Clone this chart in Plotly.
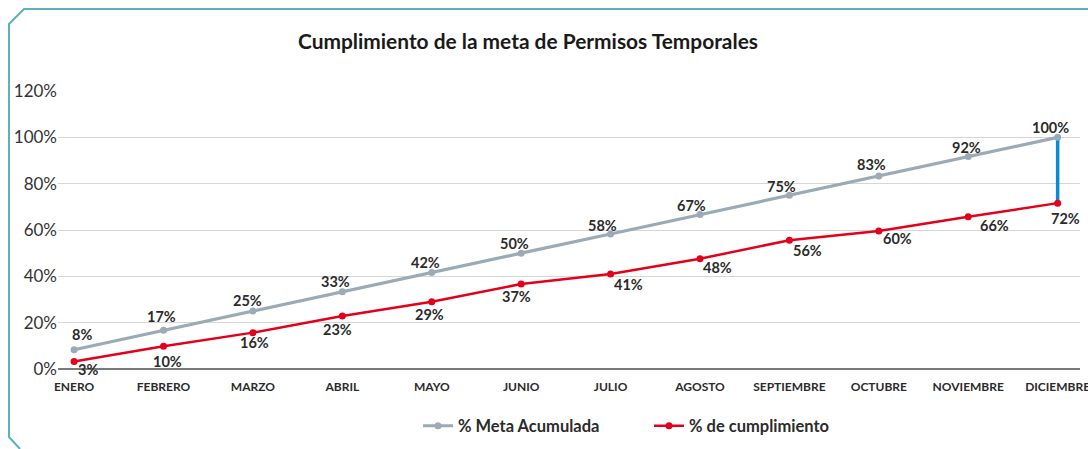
import plotly.graph_objects as go

meses = ["ENERO", "FEBRERO", "MARZO", "ABRIL", "MAYO", "JUNIO", "JULIO",
         "AGOSTO", "SEPTIEMBRE", "OCTUBRE", "NOVIEMBRE", "DICIEMBRE"]
meta_acumulada = [0.083, 0.167, 0.25, 0.333, 0.417, 0.5, 0.583, 0.667, 0.75, 0.833, 0.917, 1.0]
cumplimiento = [0.032, 0.098, 0.157, 0.229, 0.29, 0.367, 0.41, 0.476, 0.556, 0.596, 0.657, 0.716]
y_ticks = [0, 0.2, 0.4, 0.6, 0.8, 1.0, 1.2]
y_ticktext = ["0%", "20%", "40%", "60%", "80%", "100%", "120%"]

# label offsets in pixels (style only)
meta_dx = [8, -2, -5, -7, -6, -7, -8, -8, -8, -7, -2, -7]
meta_dy = [15, 14, 11, 10, 10, 10, 8, 9, 9, 12, 9, 10]
cump_dx = [14, 4, 2, -5, -2, -5, 18, 18, 18, 19, 26, 8]
cump_dy = [8, 15, 10, 14, 13, 13, 10, 9, 10, 8, 9, 15]

W, H = 1088, 449
L, R, T, B = 58, 8, 91, 80
FONT = "Lato"
x_idx = list(range(len(meses)))

fig = go.Figure()
# high-low line for last month
fig.add_trace(go.Scatter(
    x=[x_idx[-1], x_idx[-1]], y=[meta_acumulada[-1], cumplimiento[-1]],
    mode="lines", line=dict(color="#0a8ad2", width=3.5), cliponaxis=False,
    showlegend=False, hoverinfo="skip"))
fig.add_trace(go.Scatter(
    x=x_idx, y=meta_acumulada, name="% Meta Acumulada",
    mode="lines+markers", cliponaxis=False,
    line=dict(color="#9aabb6", width=3.2), marker=dict(size=7, color="#9aabb6")))
fig.add_trace(go.Scatter(
    x=x_idx, y=cumplimiento, name="% de cumplimiento",
    mode="lines+markers", cliponaxis=False,
    line=dict(color="#e3001b", width=2.5), marker=dict(size=7, color="#e3001b")))

lab_font = dict(family=FONT, size=14.5, color="#2b2b2b", weight="bold")
annotations = []
for i, v in enumerate(meta_acumulada):
    annotations.append(dict(x=x_idx[i], y=v, text=f"{v:.0%}", showarrow=False,
                            xshift=meta_dx[i], yshift=meta_dy[i], font=lab_font))
for i, v in enumerate(cumplimiento):
    annotations.append(dict(x=x_idx[i], y=v, text=f"{v:.0%}", showarrow=False,
                            xshift=cump_dx[i], yshift=-cump_dy[i], font=lab_font))

pw = W - L - R
ph = H - T - B
def px(x):
    return (x - L) / pw
def py(y):
    return (H - B - y) / ph

frame = (f"M {px(1095)},{py(9)} L {px(24)},{py(9)} L {px(9)},{py(24)} "
         f"L {px(9)},{py(437)} L {px(20)},{py(449)}")

fig.update_layout(
    width=W, height=H,
    margin=dict(l=L, r=R, t=T, b=B, autoexpand=False),
    paper_bgcolor="white", plot_bgcolor="white",
    font=dict(family=FONT, color="#333333"),
    title=dict(text="<b>Cumplimiento de la meta de Permisos Temporales</b>",
               x=px(528), xanchor="center", y=1 - 42 / H, yanchor="middle",
               xref="paper", font=dict(family=FONT, size=20.9, color="#1a1a1a")),
    xaxis=dict(range=[-0.18, 11.25], tickvals=x_idx, ticktext=meses,
               showgrid=False, zeroline=False, showline=False, automargin=False,
               ticks="", ticklabelstandoff=9, ticklabeloverflow="allow",
               tickfont=dict(family=FONT, size=12, color="#2b2b2b", weight="bold")),
    yaxis=dict(range=[0, 1.2], tickvals=y_ticks, ticktext=y_ticktext,
               showgrid=True, gridcolor="#d6d6d6", gridwidth=1, automargin=False,
               zeroline=True, zerolinecolor="#7a7a7a", zerolinewidth=2,
               showline=False, ticks="",
               tickfont=dict(family=FONT, size=17, color="#333333")),
    legend=dict(orientation="h", x=px(418), xanchor="left", y=py(426), yanchor="middle",
                font=dict(family=FONT, size=16.5, color="#2b2b2b", weight="bold"),
                entrywidth=186, entrywidthmode="pixels",
                itemwidth=30, traceorder="normal"),
    annotations=annotations,
    shapes=[dict(type="path", path=frame, xref="paper", yref="paper",
                 line=dict(color="#5fb0bd", width=2))],
)

fig.write_html("out.html", config={"displayModeBar": False},
               post_script="document.body.style.margin='0';")
